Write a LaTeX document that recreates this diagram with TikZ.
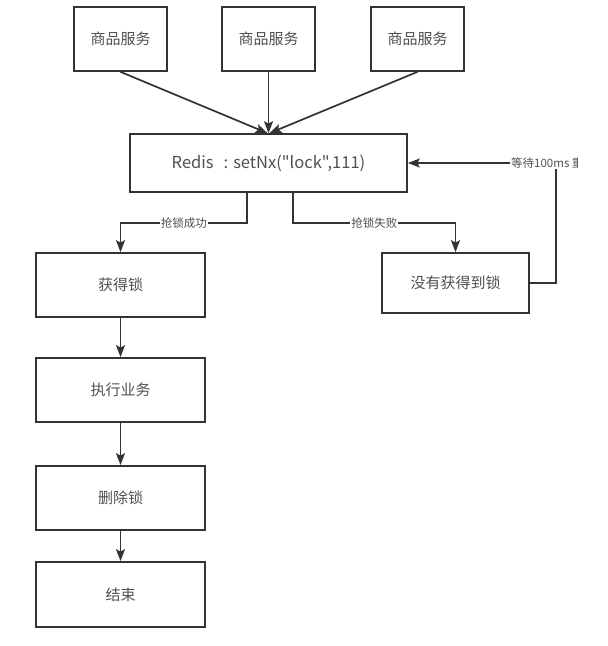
\documentclass[tikz,border=0pt]{standalone}
\usepackage{fontspec}
\setmainfont{Noto Sans CJK SC}[Ligatures=TeXOff]
\usetikzlibrary{arrows.meta}
\definecolor{linec}{HTML}{333333}
\definecolor{textc}{HTML}{505050}
\tikzset{
  box/.style={draw=linec, line width=1.7pt, fill=white, text=textc, font=\fontsize{15}{17}\selectfont, inner sep=0pt},
  arr/.style={draw=linec, line width=1.7pt, -{Stealth[length=12pt,width=9pt,inset=2.5pt]}},
  lbl/.style={fill=white, text=textc, font=\fontsize{11.5}{13}\selectfont, inner sep=1pt}
}
\begin{document}
\begin{tikzpicture}[x=1pt,y=-1pt]
\useasboundingbox (0,0) rectangle (608,646);
% services
\node[box, minimum width=93pt, minimum height=64pt] (svcA) at (120.5,39) {商品服务};
\node[box, minimum width=93pt, minimum height=64pt] (svcB) at (268.5,39) {商品服务};
\node[box, minimum width=93pt, minimum height=64pt] (svcC) at (417.5,39) {商品服务};
\node[box, minimum width=277pt, minimum height=58pt, font=\fontsize{16.5}{18}\selectfont] (redis) at (268.5,163) {Redis\hspace{10pt}:\hspace{5pt}setNx("lock",111)};
% lock flow
\node[box, minimum width=169pt, minimum height=64pt] (got) at (120.5,285) {获得锁};
\node[box, minimum width=147pt, minimum height=60pt] (miss) at (455.5,283) {没有获得到锁};
\node[box, minimum width=169pt, minimum height=64pt] (work) at (120.5,390) {执行业务};
\node[box, minimum width=169pt, minimum height=64pt] (unlock) at (120.5,498) {删除锁};
\node[box, minimum width=169pt, minimum height=65pt] (done) at (120.5,594.5) {结束};

\draw[arr] (svcA.south) -- ([xshift=-1pt]redis.north);
\draw[arr] (svcB.south) -- (redis.north);
\draw[arr] (svcC.south) -- ([xshift=1pt]redis.north);

\coordinate (okL) at ([xshift=-21.5pt]redis.south);
\coordinate (noR) at ([xshift=24.5pt]redis.south);
\draw[arr] (okL) -- (okL |- 0,223) -- node[lbl] {抢锁成功} (got.north |- 0,223) -- (got.north);
\draw[arr] (noR) -- (noR |- 0,223) -- node[lbl] {抢锁失败} (miss.north |- 0,223) -- (miss.north);

\coordinate (loop) at (556,163);
\draw[arr] (miss.east) -- (loop |- miss.east) -- (loop) -- (redis.east);
\begin{scope}
\clip (0,0) rectangle (577,646);
\node[lbl, anchor=west] (wait) at (510,163) {等待100ms 重};
\end{scope}

\draw[arr] (got) -- (work);
\draw[arr] (work) -- (unlock);
\draw[arr] (unlock) -- (done);
\end{tikzpicture}
\end{document}
